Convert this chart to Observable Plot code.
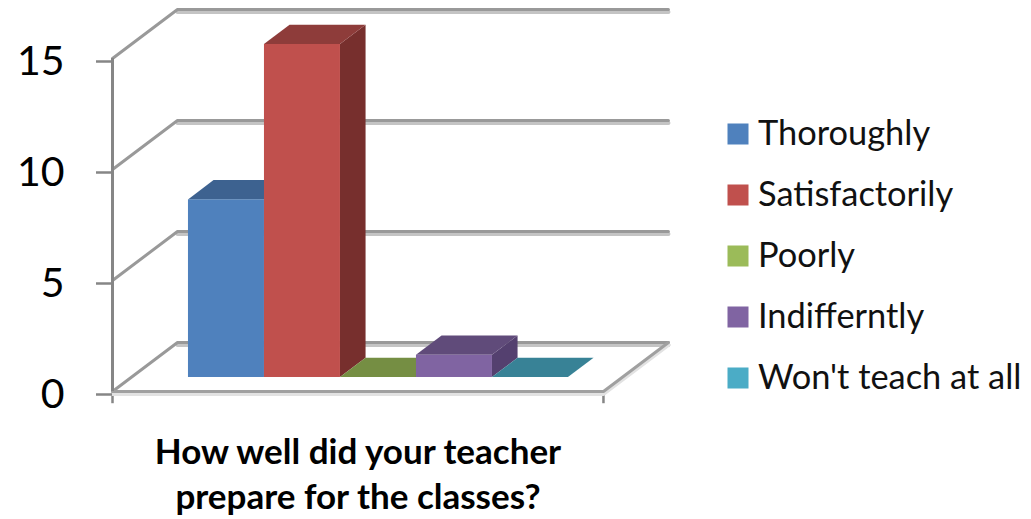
<!DOCTYPE html>
<html>
<head>
<meta charset="utf-8">
<style>html,body{margin:0;padding:0;background:#fff}svg{display:block}</style>
<script src="https://cdn.jsdelivr.net/npm/d3@7"></script>
<script src="https://cdn.jsdelivr.net/npm/@observablehq/plot@0.6"></script>
</head>
<body>
<div id="chart"></div>
<script>
const categories = ["Thoroughly", "Satisfactorily", "Poorly", "Indifferntly", "Won't teach at all"];
const values = [8, 15, 0, 1, 0];
const frontColors = ["#4F81BD", "#C0504D", "#9BBB59", "#8064A2", "#4BACC6"];
const topColors = ["#3D6290", "#8E3C3A", "#758E43", "#604B7A", "#388296"];
const sideColors = ["#345175", "#772F2D", "#637A37", "#54406F", "#2F6F80"];
const yTicks = [0, 5, 10, 15];
const titleLines = "How well did your teacher\nprepare for the classes?";

// 3-D box geometry, in scale units
const floorWidth = 6.46, gap = 0.755, depthX = 0.855, depthY = 2.207;
const barFront = 0.286, barBack = 0.68;
const px = (p, d) => p + d * depthX;
const py = (v, d) => v + d * depthY;

const bars = categories.map((name, i) => ({
  name, value: values[i], left: gap + i, right: gap + i + 1,
  top: topColors[i], side: sideColors[i]
}));

// wall lines: front edge -> back edge -> along the back
const walls = yTicks.flatMap(v => [[0, v, 0], [0, v, 1], [floorWidth, v, 1]]
  .map(([p, val, d]) => ({v, x: px(p, d), y: py(val, d)})));
const backs = yTicks.flatMap(v => [[0, v, 1], [floorWidth, v, 1]]
  .map(([p, val, d]) => ({v, x: px(p, d), y: py(val, d)})));
const floorEdge = [[0, 0, 0], [floorWidth, 0, 0], [floorWidth, 0, 1]]
  .map(([p, val, d]) => ({x: px(p, d), y: py(val, d)}));

const topFace = b => [barFront, barBack].map(d => ({
  x1: px(b.left, d), x2: px(b.right, d), y: py(b.value, d), fill: b.top}));
const sideFace = b => [barFront, barBack].map(d => ({
  x: px(b.right, d), y1: py(0, d), y2: py(b.value, d), fill: b.side}));

const barMarks = bars.flatMap(b => [
  ...(b.value > 0 ? [Plot.areaY(sideFace(b), {x: "x", y1: "y1", y2: "y2", fill: "fill", curve: "linear"})] : []),
  Plot.areaX(topFace(b), {x1: "x1", x2: "x2", y: "y", fill: "fill", curve: "linear"}),
  Plot.rect([b], {
    x1: d => px(d.left, barFront), x2: d => px(d.right, barFront),
    y1: () => py(0, barFront), y2: d => py(d.value, barFront),
    fill: "name", inset: 0
  })
]);

const font = "Lato, Carlito, Calibri, sans-serif";

const legendMarks = categories.flatMap((name, i) => [
  Plot.dot([name], {frameAnchor: "top-left", dx: 625.5, dy: 133.5 + 61 * i, symbol: "square", r: 11.85, fill: d => d}),
  Plot.text([name], {frameAnchor: "top-left", dx: 645.5, dy: 133.5 + 61 * i, text: d => d, textAnchor: "start", lineAnchor: "middle",
    fontSize: 34.4, fontFamily: font, fill: "#111"})
]);

const chart = Plot.plot({
  width: 1031, height: 519,
  marginLeft: 112, marginRight: 0, marginTop: 0, marginBottom: 128,
  style: {background: "#fff", fontFamily: font, overflow: "visible"},
  x: {domain: [0, 919 / 76], axis: null},
  y: {domain: [0, 391 / 22.2]},
  color: {domain: categories, range: frontColors},
  marks: [
    // soft shadow beneath the back lines
    Plot.line(backs, {x: "x", y: "y", z: "v", stroke: "#c4c4c4", strokeWidth: 4, dy: 2.5, curve: "linear"}),
    Plot.line(walls, {x: "x", y: "y", z: "v", stroke: "#999999", strokeWidth: 3, curve: "linear"}),
    Plot.ruleX([0, floorWidth], {y1: 0, y2: -0.55, stroke: "#868686", strokeWidth: 2.5}),
    Plot.line(floorEdge, {x: "x", y: "y", stroke: "#e2e2e2", strokeWidth: 4, dy: 2.5, curve: "linear"}),
    Plot.line(floorEdge, {x: "x", y: "y", stroke: "#a0a0a0", strokeWidth: 3, curve: "linear"}),
    Plot.ruleX([0], {y1: 0, y2: 15, stroke: "#868686", strokeWidth: 3}),
    Plot.axisY({ticks: yTicks, tickSize: 16, tickPadding: 32, fontSize: 41, stroke: "#868686", fill: "#000", strokeWidth: 2.5, textStroke: "none", label: null, dy: 3}),
    ...barMarks,
    ...legendMarks,
    Plot.text([titleLines], {frameAnchor: "top-left", dx: 245.5, dy: 432, text: d => d, fontSize: 35, fontWeight: "bold",
      fontFamily: font, fill: "#000", lineHeight: 1.27, lineAnchor: "top", textAnchor: "middle"})
  ]
});
document.getElementById("chart").append(chart);
</script>
</body>
</html>
